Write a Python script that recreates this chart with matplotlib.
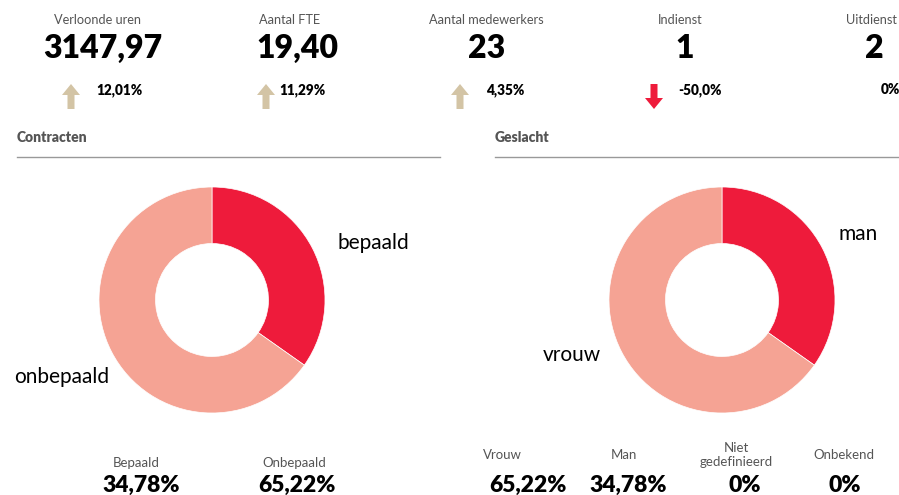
import matplotlib.pyplot as plt
from matplotlib.patches import FancyArrow

plt.rcParams['font.family'] = ['Lato', 'DejaVu Sans']

# KPI row
kpi_labels = ["Verloonde uren", "Aantal FTE", "Aantal medewerkers", "Indienst", "Uitdienst"]
kpi_values = ["3147,97", "19,40", "23", "1", "2"]
kpi_change = [12.01, 11.29, 4.35, -50.0, 0.0]
kpi_change_txt = ["12,01%", "11,29%", "4,35%", "-50,0%", "0%"]

# donuts
contract_labels = ["bepaald", "onbepaald"]
contract_values = [34.78, 65.22]
gender_labels = ["man", "vrouw"]
gender_values = [34.78, 65.22]

contract_stats = ["Bepaald", "Onbepaald"]
contract_stat_vals = ["34,78%", "65,22%"]
gender_stats = ["Vrouw", "Man", "Niet\ngedefinieerd", "Onbekend"]
gender_stat_vals = ["65,22%", "34,78%", "0%", "0%"]

RED = "#ee1b3b"
SALMON = "#f5a394"
TAN = "#d3c4a5"
GREY = "#555555"

W, H = 899, 495
fig = plt.figure(figsize=(W / 100, H / 100), dpi=100)
ov = fig.add_axes([0, 0, 1, 1])
ov.set_xlim(0, W)
ov.set_ylim(H, 0)
ov.axis("off")

# top row
lab_x = [98, 290, 486, 680, 846]
lab_ha = ["center", "center", "center", "center", "left"]
val_x = [103, 297, 487, 685, 874]
arr_x = [71, 266, 460, 654, 860]
pct_x = [96, 279, 486, 678, 881]
for i in range(len(kpi_labels)):
    ov.text(lab_x[i], 20, kpi_labels[i], ha=lab_ha[i], va="center", fontsize=9.2, color=GREY)
    ov.text(val_x[i], 48, kpi_values[i], ha="center", va="center", fontsize=23,
            fontweight="heavy", color="black")
    ov.text(pct_x[i], 90, kpi_change_txt[i], ha="left", va="center", fontsize=9.8,
            fontweight="heavy", color="black")
    if kpi_change[i] > 0:
        ov.add_patch(FancyArrow(arr_x[i], 109, 0, -25, width=7, head_width=18,
                                head_length=11, length_includes_head=True,
                                color=TAN, lw=0))
    elif kpi_change[i] < 0:
        ov.add_patch(FancyArrow(arr_x[i], 84, 0, 25, width=7, head_width=18,
                                head_length=11, length_includes_head=True,
                                color=RED, lw=0))

# section headers
ov.text(17, 138, "Contracten", ha="left", va="center", fontsize=10, fontweight="heavy", color=GREY)
ov.plot([17, 440], [157, 157], color="#999999", lw=1)
ov.text(495, 138, "Geslacht", ha="left", va="center", fontsize=10, fontweight="heavy", color=GREY)
ov.plot([495, 899], [157, 157], color="#999999", lw=1)


def donut(cx, cy, r, values, labels, label_pos):
    ax = fig.add_axes([(cx - r) / W, 1 - (cy + r) / H, 2 * r / W, 2 * r / H])
    ax.pie(values, colors=[RED, SALMON], startangle=90, counterclock=False,
           wedgeprops=dict(width=0.5, edgecolor="white", linewidth=0.5), radius=1)
    ax.set_xlim(-1, 1)
    ax.set_ylim(-1, 1)
    ax.axis("off")
    for lab, (lx, ly) in zip(labels, label_pos):
        ov.text(lx, ly, lab, ha="center", va="center", fontsize=15, color="black")


donut(212, 300, 113, contract_values, contract_labels, [(373, 243), (62, 377)])
donut(722, 300, 113, gender_values, gender_labels, [(858, 234), (572, 355)])

# bottom stats
for x_l, x_v, lab, val in zip([136, 294], [141, 297], contract_stats, contract_stat_vals):
    ov.text(x_l, 463, lab, ha="center", va="center", fontsize=9.5, color=GREY)
    ov.text(x_v, 485, val, ha="center", va="center", fontsize=16.5, fontweight="heavy")
for x_l, x_v, lab, val in zip([502, 624, 736, 844], [528, 628, 745, 845], gender_stats, gender_stat_vals):
    ov.text(x_l, 455, lab, ha="center", va="center", fontsize=9.5, color=GREY, linespacing=1.2)
    ov.text(x_v, 485, val, ha="center", va="center", fontsize=16.5, fontweight="heavy")

fig.savefig("out.png", dpi=100)
